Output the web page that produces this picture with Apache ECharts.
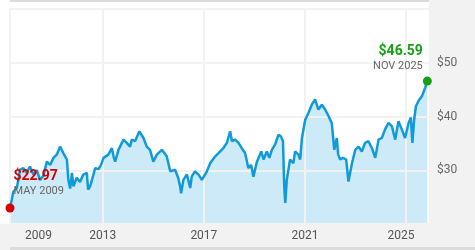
<!DOCTYPE html>
<html>
<head>
<meta charset="utf-8">
<script src="https://cdn.jsdelivr.net/npm/echarts@6/dist/echarts.min.js"></script>
<style>
html,body{margin:0;padding:0;background:#fff;}
#c{width:475px;height:250px;}
</style>
</head>
<body>
<div id="c"></div>
<script>
const years = [2009.33,2009.40,2009.46,2009.60,2009.67,2009.73,2009.86,2009.99,2010.12,2010.26,2010.39,2010.52,2010.65,2010.79,2010.92,2011.05,2011.18,2011.31,2011.44,2011.58,2011.64,2011.71,2011.78,2011.84,2011.97,2012.10,2012.23,2012.37,2012.42,2012.50,2012.63,2012.70,2012.83,2012.93,2013.03,2013.22,2013.36,2013.43,2013.49,2013.62,2013.82,2013.95,2014.08,2014.15,2014.28,2014.36,2014.45,2014.61,2014.74,2014.87,2015.00,2015.14,2015.34,2015.53,2015.67,2015.86,2015.99,2016.06,2016.10,2016.19,2016.33,2016.46,2016.52,2016.65,2016.79,2016.92,2017.12,2017.25,2017.45,2017.58,2017.77,2017.91,2018.04,2018.11,2018.24,2018.37,2018.50,2018.63,2018.76,2018.87,2018.96,2019.10,2019.27,2019.36,2019.49,2019.59,2019.69,2019.82,2019.95,2020.05,2020.13,2020.18,2020.22,2020.28,2020.41,2020.54,2020.61,2020.74,2020.81,2020.88,2021.01,2021.14,2021.27,2021.40,2021.53,2021.67,2021.80,2021.93,2022.06,2022.16,2022.26,2022.31,2022.39,2022.50,2022.63,2022.72,2022.79,2022.86,2022.99,2023.12,2023.25,2023.38,2023.51,2023.65,2023.78,2023.91,2024.04,2024.17,2024.30,2024.44,2024.57,2024.70,2024.83,2024.96,2025.10,2025.19,2025.25,2025.32,2025.39,2025.49,2025.63,2025.76,2025.84];
const prices = [22.97,24.5,26.0,26.7,28.5,30.1,30.4,29.5,30.7,29.2,30.0,28.2,29.0,31.6,31.0,32.3,32.9,34.4,33.2,32.0,28.2,26.6,29.5,27.0,28.6,27.8,29.2,29.5,26.4,27.0,29.2,30.4,30.2,31.0,32.3,32.9,34.1,32.5,31.6,33.8,35.7,35.1,34.4,35.7,35.4,36.3,37.25,36.0,34.4,33.8,31.6,32.9,33.8,32.6,29.8,30.1,28.5,27.0,25.7,28.2,29.2,26.7,28.8,29.8,29.2,28.2,29.8,31.3,32.6,33.2,34.1,35.1,37.25,35.4,35.7,35.1,34.1,33.2,30.4,31.0,28.8,31.6,33.5,32.0,33.5,32.3,33.8,34.8,36.6,36.3,35.4,27.0,23.9,28.2,32.0,31.3,33.5,32.9,32.0,36.0,39.4,40.7,42.2,43.2,41.3,42.2,41.3,40.1,38.8,33.8,36.0,33.0,32.0,32.3,32.0,27.9,28.2,31.3,33.8,34.4,33.5,35.1,35.4,34.1,32.3,35.7,36.0,37.6,38.8,38.2,35.7,39.1,37.6,36.0,38.8,39.8,35.1,39.4,41.9,42.9,43.8,45.4,46.59];
const xTickValues = [2009.33, 2013, 2017, 2021, 2025];
const xTickLabels = ['2009', '2013', '2017', '2021', '2025'];
const yTickLabels = [30, 40, 50];
const lowPoint = { year: 2009.33, value: 22.97, label: 'MAY 2009' };
const highPoint = { year: 2025.84, value: 46.59, label: 'NOV 2025' };

const data = years.map((y, i) => [y, prices[i]]);
const FONT = 'Roboto';

const chart = echarts.init(document.getElementById('c'), null, { renderer: 'canvas' });
chart.setOption({
  animation: false,
  backgroundColor: '#ffffff',
  textStyle: { fontFamily: FONT },
  graphic: [
    { type: 'rect', silent: true, z: -10, shape: { x: 0, y: 224, width: 475, height: 26 }, style: { fill: '#f2f2f2' } },
    { type: 'rect', silent: true, z: -10, shape: { x: 429, y: 0, width: 46, height: 250 }, style: { fill: '#f2f2f2' } },
    { type: 'rect', silent: true, z: -9, shape: { x: 10, y: 0, width: 419, height: 2 }, style: { fill: '#dcdcdc' } },
    { type: 'rect', silent: true, z: -9, shape: { x: 10, y: 247, width: 465, height: 3 }, style: { fill: '#dcdcdc' } }
  ],
  grid: { left: 10, right: 46, top: 9, bottom: 26, containLabel: false },
  xAxis: {
    type: 'value',
    min: 2009.33,
    max: 2025.907,
    z: 2,
    axisLine: { show: false },
    axisTick: { show: false, customValues: xTickValues },
    splitLine: { show: true, lineStyle: { color: '#f2f2f2', width: 2 } },
    axisLabel: {
      customValues: xTickValues,
      margin: 6,
      color: '#555',
      fontSize: 12,
      fontFamily: FONT,
      formatter: function (v) {
        let idx = 0, best = 1e9;
        xTickValues.forEach((t, i) => { if (Math.abs(t - v) < best) { best = Math.abs(t - v); idx = i; } });
        if (idx === 0) return '{first|' + xTickLabels[idx] + '}';
        if (idx === xTickLabels.length - 1) return '{last|' + xTickLabels[idx] + '}';
        return xTickLabels[idx];
      },
      rich: {
        first: { color: '#555', fontSize: 12, fontFamily: FONT, padding: [0, 0, 0, 57] },
        last: { color: '#555', fontSize: 12, fontFamily: FONT, padding: [0, 10, 0, 0] }
      }
    }
  },
  yAxis: {
    type: 'value',
    position: 'right',
    min: 20,
    max: 60,
    interval: 10,
    z: 2,
    axisLine: { show: false },
    axisTick: { show: false },
    splitLine: { show: true, lineStyle: { color: '#f2f2f2', width: 2 } },
    axisLabel: {
      margin: 8,
      color: '#666',
      fontSize: 12,
      fontFamily: FONT,
      formatter: function (v) { return yTickLabels.indexOf(v) >= 0 ? '$' + v : ''; }
    }
  },
  series: [
    {
      type: 'line',
      data: data,
      z: 1,
      symbol: 'none',
      lineStyle: { width: 0, opacity: 0 },
      areaStyle: { color: '#cdeaf8', opacity: 1 },
      silent: true
    },
    {
      type: 'line',
      data: data,
      z: 3,
      symbol: 'none',
      lineStyle: { width: 2.5, color: '#109ad9' },
      silent: true,
      markPoint: {
        silent: true,
        symbol: 'circle',
        symbolSize: 9,
        data: [
          {
            coord: [lowPoint.year, lowPoint.value],
            itemStyle: { color: '#d40000' },
            label: {
              show: true,
              position: [8, -5],
              align: 'left',
              verticalAlign: 'bottom',
              formatter: '{p|$' + lowPoint.value.toFixed(2) + '}\n{d|' + lowPoint.label + '}',
              rich: {
                p: { color: '#d40000', fontSize: 14, fontWeight: 'bold', fontFamily: FONT, lineHeight: 16 },
                d: { color: '#666', fontSize: 11, fontFamily: FONT, lineHeight: 14 }
              }
            }
          },
          {
            coord: [highPoint.year, highPoint.value],
            itemStyle: { color: '#16a016' },
            label: {
              show: true,
              position: [0, -3],
              align: 'right',
              verticalAlign: 'bottom',
              formatter: '{p|$' + highPoint.value.toFixed(2) + '}\n{d|' + highPoint.label + '}',
              rich: {
                p: { color: '#16a016', fontSize: 14, fontWeight: 'bold', fontFamily: FONT, lineHeight: 16, align: 'right' },
                d: { color: '#666', fontSize: 11, fontFamily: FONT, lineHeight: 14, align: 'right' }
              }
            }
          }
        ]
      }
    }
  ]
});
</script>
</body>
</html>
